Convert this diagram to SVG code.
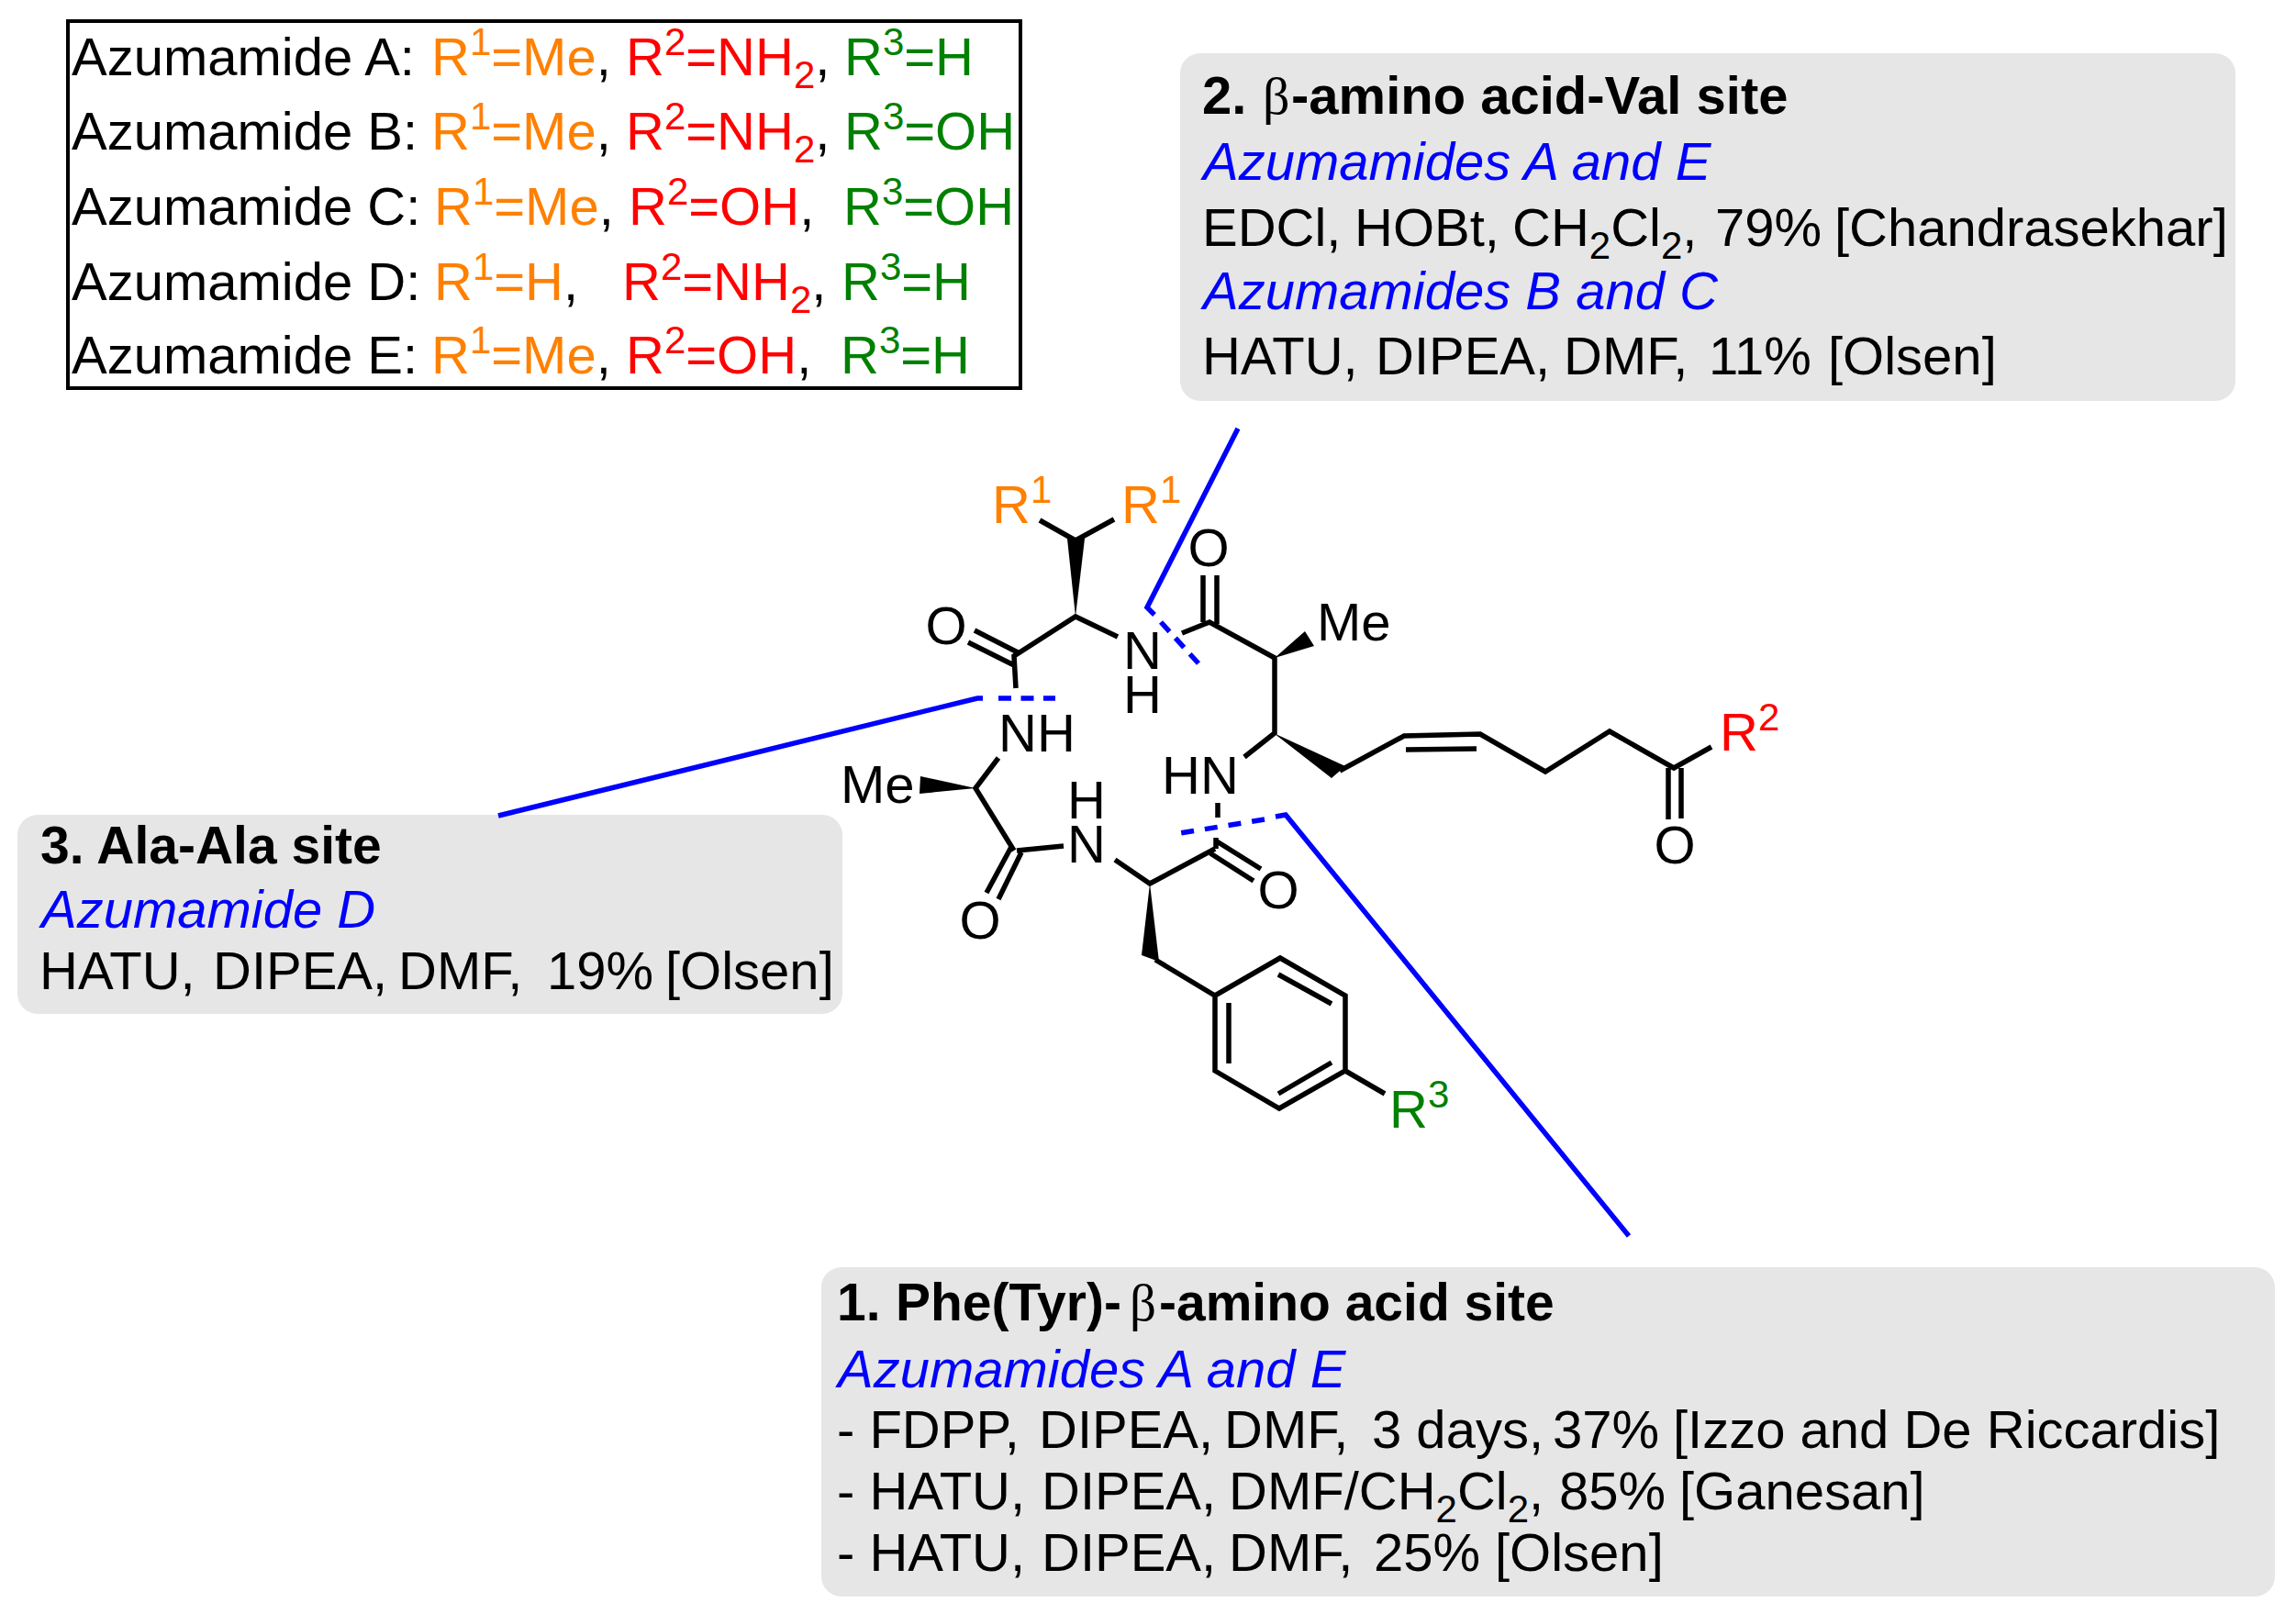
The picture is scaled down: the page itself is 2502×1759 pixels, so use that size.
<svg xmlns="http://www.w3.org/2000/svg" width="2502" height="1759" viewBox="0 0 2502 1759">
<style>
text{font-family:"Liberation Sans",Arial,sans-serif;font-size:58px;fill:#000}
.s{font-size:42px}
.o{fill:#ff8000}.r{fill:#ff0000}.g{fill:#008000}.k{fill:#000}
.b{font-weight:700}.i{font-style:italic;fill:#0000ff}
.t{font-size:57px}
.gr{font-family:"Liberation Serif","Times New Roman",serif;font-weight:400}
.box{fill:#e6e6e6}
.bond{fill:none;stroke:#000;stroke-width:5.5;stroke-linecap:butt;stroke-linejoin:miter}
.w{fill:#000;stroke:none}
.sol{fill:none;stroke:#0000ff;stroke-width:5.5}
.d1{fill:none;stroke:#0000ff;stroke-width:5.5;stroke-dasharray:14 10.5}
.d2{fill:none;stroke:#0000ff;stroke-width:5.5;stroke-dasharray:14 9.5}
.d3{fill:none;stroke:#0000ff;stroke-width:5.5;stroke-dasharray:14 12}
</style>
<rect width="2502" height="1759" fill="#fff"/>
<g id="table">
<rect x="74" y="23" width="1038" height="400" fill="#fff" stroke="#000" stroke-width="4"/>
<text x="78" y="82">Azumamide A:</text>
<text x="470" y="82" class="o">R<tspan class="s" dy="-22">1</tspan><tspan dy="22">=Me</tspan><tspan class="k">,</tspan></text>
<text x="682" y="82" class="r">R<tspan class="s" dy="-22">2</tspan><tspan dy="22">=NH</tspan><tspan class="s" dy="14">2</tspan><tspan class="k" dy="-14">,</tspan></text>
<text x="920" y="82" class="g">R<tspan class="s" dy="-22">3</tspan><tspan dy="22">=H</tspan></text>
<text x="78" y="163">Azumamide B:</text>
<text x="470" y="163" class="o">R<tspan class="s" dy="-22">1</tspan><tspan dy="22">=Me</tspan><tspan class="k">,</tspan></text>
<text x="682" y="163" class="r">R<tspan class="s" dy="-22">2</tspan><tspan dy="22">=NH</tspan><tspan class="s" dy="14">2</tspan><tspan class="k" dy="-14">,</tspan></text>
<text x="920" y="163" class="g">R<tspan class="s" dy="-22">3</tspan><tspan dy="22">=OH</tspan></text>
<text x="78" y="245">Azumamide C:</text>
<text x="473" y="245" class="o">R<tspan class="s" dy="-22">1</tspan><tspan dy="22">=Me</tspan><tspan class="k">,</tspan></text>
<text x="685" y="245" class="r">R<tspan class="s" dy="-22">2</tspan><tspan dy="22">=OH</tspan><tspan class="k">,</tspan></text>
<text x="919" y="245" class="g">R<tspan class="s" dy="-22">3</tspan><tspan dy="22">=OH</tspan></text>
<text x="78" y="327">Azumamide D:</text>
<text x="473" y="327" class="o">R<tspan class="s" dy="-22">1</tspan><tspan dy="22">=H</tspan><tspan class="k">,</tspan></text>
<text x="678" y="327" class="r">R<tspan class="s" dy="-22">2</tspan><tspan dy="22">=NH</tspan><tspan class="s" dy="14">2</tspan><tspan class="k" dy="-14">,</tspan></text>
<text x="917" y="327" class="g">R<tspan class="s" dy="-22">3</tspan><tspan dy="22">=H</tspan></text>
<text x="78" y="407">Azumamide E:</text>
<text x="470" y="407" class="o">R<tspan class="s" dy="-22">1</tspan><tspan dy="22">=Me</tspan><tspan class="k">,</tspan></text>
<text x="682" y="407" class="r">R<tspan class="s" dy="-22">2</tspan><tspan dy="22">=OH</tspan><tspan class="k">,</tspan></text>
<text x="916" y="407" class="g">R<tspan class="s" dy="-22">3</tspan><tspan dy="22">=H</tspan></text>
</g>
<g id="site2">
<rect class="box" x="1286" y="58" width="1150" height="379" rx="22"/>
<text y="124" class="b"><tspan x="1310">2.</tspan><tspan x="1376" class="gr">β</tspan><tspan x="1407">-amino acid-Val site</tspan></text>
<text x="1311" y="196" class="i">Azumamides A and E</text>
<text y="268"><tspan x="1310">EDCl,</tspan><tspan x="1476">HOBt,</tspan><tspan x="1648">CH</tspan><tspan class="s" dy="14">2</tspan><tspan dy="-14">Cl</tspan><tspan class="s" dy="14">2</tspan><tspan dy="-14">,</tspan><tspan x="1869">79%</tspan><tspan x="1999">[Chandrasekhar]</tspan></text>
<text x="1311" y="337" class="i">Azumamides B and C</text>
<text y="408"><tspan x="1310">HATU,</tspan><tspan x="1499">DIPEA,</tspan><tspan x="1704">DMF,</tspan><tspan x="1862">11%</tspan><tspan x="1992">[Olsen]</tspan></text>
</g>
<g id="site3">
<rect class="box" x="19" y="888" width="899" height="217" rx="22"/>
<text x="44" y="941" class="b t">3. Ala-Ala site</text>
<text x="45" y="1011" class="i">Azumamide D</text>
<text y="1078"><tspan x="43">HATU,</tspan><tspan x="232">DIPEA,</tspan><tspan x="434">DMF,</tspan><tspan x="596">19%</tspan><tspan x="725">[Olsen]</tspan></text>
</g>
<g id="site1">
<rect class="box" x="895" y="1381" width="1584" height="359" rx="22"/>
<text y="1439" class="b t"><tspan x="912">1.</tspan><tspan x="976">Phe(Tyr)-</tspan><tspan x="1231" class="gr">β</tspan><tspan x="1263">-amino acid site</tspan></text>
<text x="913" y="1512" class="i">Azumamides A and E</text>
<text y="1578"><tspan x="912">- FDPP,</tspan><tspan x="1132">DIPEA,</tspan><tspan x="1334">DMF,</tspan><tspan x="1495">3 days,</tspan><tspan x="1692">37%</tspan><tspan x="1823">[Izzo and De Riccardis]</tspan></text>
<text y="1645"><tspan x="912">- HATU,</tspan><tspan x="1135">DIPEA,</tspan><tspan x="1339">DMF/CH</tspan><tspan class="s" dy="14">2</tspan><tspan dy="-14">Cl</tspan><tspan class="s" dy="14">2</tspan><tspan dy="-14">,</tspan><tspan x="1699">85%</tspan><tspan x="1830">[Ganesan]</tspan></text>
<text y="1712"><tspan x="912">- HATU,</tspan><tspan x="1135">DIPEA,</tspan><tspan x="1339">DMF,</tspan><tspan x="1497">25%</tspan><tspan x="1629">[Olsen]</tspan></text>
</g>
<g id="molecule">
<path class="bond" d="M1133 567L1172 589L1214 566M1218 694L1172 672L1105 715L1107 750M1062 687L1111 712M1055 700L1105 725"/>
<path class="w" d="M1172 672L1163 587L1182 587Z"/>
<path class="bond" d="M1288 690L1318 678L1389 717V799L1356 825M1311 627V678M1326 627V680"/>
<path class="w" d="M1389 717L1422 688L1432 704Z"/>
<path class="w" d="M1388 799L1466 835L1451 848Z"/>
<path class="bond" d="M1460 840L1530 802L1613 800L1684 841L1754 797L1824 837L1865 814M1532 817L1609 816M1818 837V893M1832 837V892"/>
<path class="bond" d="M1327 875V891M1325 913V925M1326 917L1374 947M1319 930L1366 960M1324 925L1253 963L1215 937M1159 922L1108 927M1102 923L1075 973M1113 929L1088 980M1088 826L1063 859L1105 927"/>
<path class="w" d="M1063 859L1003 846L1002 865Z"/>
<path class="w" d="M1253 963L1244 1041L1263 1048Z"/>
<path class="bond" d="M1259 1046L1324 1085L1395 1044L1466 1085V1167L1394 1208L1324 1167V1085M1393 1062L1451 1094M1339 1093V1159M1393 1192L1451 1158M1466 1167L1509 1192"/>
<text x="1081" y="570" class="o">R<tspan class="s" dy="-22">1</tspan></text>
<text x="1222" y="570" class="o">R<tspan class="s" dy="-22">1</tspan></text>
<text x="1031" y="702" text-anchor="middle">O</text>
<text x="1317" y="617" text-anchor="middle">O</text>
<text x="1245" y="729" text-anchor="middle">N</text>
<text x="1245" y="777" text-anchor="middle">H</text>
<text x="1435" y="698">Me</text>
<text x="1088" y="819">NH</text>
<text x="1266" y="865">HN</text>
<text x="916" y="875">Me</text>
<text x="1184" y="892" text-anchor="middle">H</text>
<text x="1184" y="940" text-anchor="middle">N</text>
<text x="1393" y="990" text-anchor="middle">O</text>
<text x="1068" y="1023" text-anchor="middle">O</text>
<text x="1825" y="941" text-anchor="middle">O</text>
<text x="1874" y="818" class="r">R<tspan class="s" dy="-22">2</tspan></text>
<text x="1514" y="1229" class="g">R<tspan class="s" dy="-22">3</tspan></text>
</g>
<g id="connectors">
<path class="sol" d="M1349 467L1250 662L1258 670"/>
<path class="d2" d="M1265 678L1306 723"/>
<path class="sol" d="M543 889L1065 761H1071"/>
<path class="d1" d="M1088 761H1150"/>
<path class="sol" d="M1775 1347L1401 888L1390 890"/>
<path class="d3" d="M1378 893L1286 908"/>
</g>
</svg>
